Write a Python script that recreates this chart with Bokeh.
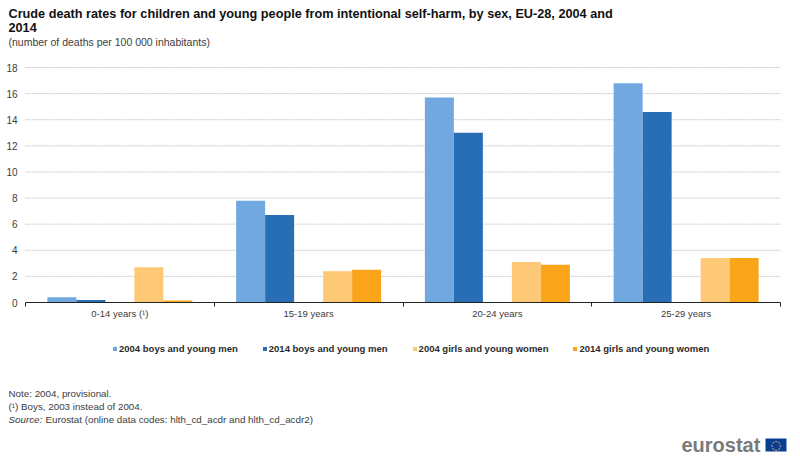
from bokeh.plotting import figure
from bokeh.embed import file_html
from bokeh.resources import INLINE
from bokeh.models import (ColumnDataSource, FixedTicker, Label, Legend, LegendItem,
                          BoxAnnotation)

# ---- data -------------------------------------------------------------
age_groups = ["0-14 years (\u00b9)", "15-19 years", "20-24 years", "25-29 years"]
boys_2004 = [0.4, 7.8, 15.7, 16.8]
boys_2014 = [0.2, 6.7, 13.0, 14.6]
girls_2004 = [2.7, 2.4, 3.1, 3.4]
girls_2014 = [0.15, 2.5, 2.9, 3.4]
series_names = ["2004 boys and young men", "2014 boys and young men",
                "2004 girls and young women", "2014 girls and young women"]
y_ticks = [0, 2, 4, 6, 8, 10, 12, 14, 16, 18]

title_lines = "Crude death rates for children and young people from intentional self-harm, by sex, EU-28, 2004 and\n2014"
subtitle = "(number of deaths per 100 000 inhabitants)"
notes = ["Note: 2004, provisional.", "(\u00b9) Boys, 2003 instead of 2004."]
source_label = "Source:"
source_text = "Eurostat (online data codes: hlth_cd_acdr and hlth_cd_acdr2)"

# ---- style ------------------------------------------------------------
FONT = "Liberation Sans"
colors = ["#71A8E0", "#286EB4", "#FDC977", "#FAA519"]
offsets = [-0.3073, -0.1536, 0.1536, 0.3073]
BAR_W = 0.1536
TXT = "#3c3c3c"

# The frame fills the whole figure, so that every text around the plot area
# lies inside it; the axes are pinned at the data origin.
W, H = 790, 460
X0, X1, Y_TOP, Y_BASE = 25, 780, 67, 302   # plot area in page pixels
n_groups = len(age_groups)
y_max = y_ticks[-1]
px_x = (X1 - X0) / n_groups
px_y = (Y_BASE - Y_TOP) / y_max

p = figure(width=W, height=H, output_backend="svg", toolbar_location=None,
           x_range=(-X0 / px_x, (W - X0) / px_x),
           y_range=(-(H - Y_BASE) / px_y, Y_BASE / px_y),
           min_border=0, min_border_left=0, min_border_right=0,
           min_border_top=0, min_border_bottom=0)
p.outline_line_color = None
p.xgrid.visible = False
p.ygrid.visible = False

# horizontal gridlines limited to the plot area
p.segment(x0=[0] * len(y_ticks), x1=[n_groups] * len(y_ticks), y0=y_ticks, y1=y_ticks,
          line_color="#c8c8c8", line_dash="2 1", line_width=1)

centers = [i + 0.5 for i in range(n_groups)]
rs = []
for vals, off, col in zip([boys_2004, boys_2014, girls_2004, girls_2014], offsets, colors):
    src = ColumnDataSource(dict(x=[c + off for c in centers], top=vals))
    rs.append(p.vbar(x="x", top="top", bottom=0, width=BAR_W, source=src,
                     fill_color=col, line_color=None))

ya = p.yaxis[0]
ya.fixed_location = 0
ya.ticker = FixedTicker(ticks=y_ticks)
ya.axis_line_color = None
ya.major_tick_line_color = None
ya.minor_tick_line_color = None
ya.major_tick_out = 0
ya.major_tick_in = 0
ya.major_label_standoff = 8
ya.major_label_text_font = FONT
ya.major_label_text_font_size = "10px"
ya.major_label_text_color = TXT

xa = p.xaxis[0]
xa.fixed_location = 0
xa.bounds = (0, n_groups)
xa.ticker = FixedTicker(ticks=centers, minor_ticks=list(range(n_groups + 1)))
xa.major_label_overrides = {c: a for c, a in zip(centers, age_groups)}
xa.major_tick_out = 0
xa.major_tick_in = 0
xa.minor_tick_out = 4
xa.minor_tick_in = 0
xa.minor_tick_line_color = "#222222"
xa.axis_line_color = "#222222"
xa.axis_line_width = 1
xa.major_label_standoff = 1
xa.major_label_text_font = FONT
xa.major_label_text_font_size = "9.5px"
xa.major_label_text_color = TXT

legend = Legend(items=[LegendItem(label=n, renderers=[r]) for n, r in zip(series_names, rs)],
                orientation="horizontal", location=(112, H - 354),
                glyph_width=5, glyph_height=5, label_standoff=2, spacing=24,
                padding=0, margin=0, border_line_color=None, background_fill_alpha=0,
                label_text_font=FONT, label_text_font_size="9.5px",
                label_text_font_style="bold", label_text_color="#2a2a2a")
p.add_layout(legend, "center")


def text(px, py, s, size="9.8px", style="normal", color=TXT, font=FONT):
    p.add_layout(Label(x=px, y=H - py, x_units="screen", y_units="screen", text=s,
                       text_font=font, text_font_size=size, text_font_style=style,
                       text_color=color, text_baseline="alphabetic"))


l1, l2 = title_lines.split("\n")
text(8, 13, l1, "12.7px", "bold", "#111111")
text(8, 27, l2, "12.7px", "bold", "#111111")
text(8, 41, subtitle, "10.5px")

text(8, 393, notes[0])
text(8, 406, notes[1])
text(8, 419, source_label, style="italic")
text(45, 419, source_text)

text(681, 444, "eurostat", "20px", "bold", "#7a7a7a")
p.add_layout(BoxAnnotation(left=765, right=786, top=H - 438, bottom=H - 451,
                           left_units="screen", right_units="screen",
                           top_units="screen", bottom_units="screen",
                           fill_color="#0b3f94", fill_alpha=1, line_color=None))
text(770, 444, "\u25cc", "12px", "normal", "#f4d21f", "DejaVu Sans")

open("out.html", "w").write(file_html(p, INLINE))
